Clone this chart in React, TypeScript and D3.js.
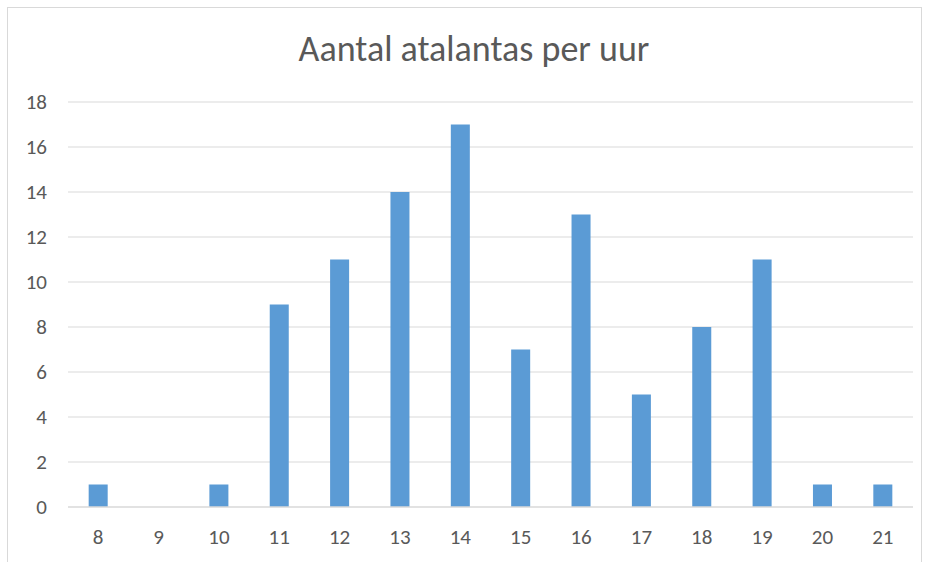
import React from 'react';
import * as d3 from 'd3';

const hours = ['8', '9', '10', '11', '12', '13', '14', '15', '16', '17', '18', '19', '20', '21'];
const counts = [1, 0, 1, 9, 11, 14, 17, 7, 13, 5, 8, 11, 1, 1];
const yTicks = [0, 2, 4, 6, 8, 10, 12, 14, 16, 18];

const W = 930;
const H = 562;
const font = "Carlito, Calibri, Lato, sans-serif";

export default function App() {
    const margin = { top: 102, right: 17, bottom: 55, left: 68 };

    const x = d3.scaleBand<string>()
        .domain(hours)
        .range([margin.left, W - margin.right])
        .paddingInner(0.685)
        .paddingOuter(0.3425);

    const y = d3.scaleLinear()
        .domain([0, 18])
        .range([H - margin.bottom, margin.top]);

    return (
        <svg width={W} height={H} style={{ position: 'absolute', left: 0, top: 0, fontFamily: font }}>
            <rect x={7.5} y={7.5} width={914} height={H} fill="#fff" stroke="#d9d9d9" strokeWidth={1} />
            <text x={474} y={61} textAnchor="middle" fontSize={36} fill="#595959">
                Aantal atalantas per uur
            </text>
            {/* gridlines + y labels */}
            {yTicks.map(t => (
                <g key={t}>
                    {t > 0 && (
                        <line x1={margin.left} x2={W - margin.right} y1={y(t)} y2={y(t)} stroke="#d9d9d9" strokeWidth={1} />
                    )}
                    <text x={47} y={y(t)} dy="0.35em" textAnchor="end" fontSize={21} fill="#595959">{t}</text>
                </g>
            ))}
            {/* bars */}
            {counts.map((c, i) => (
                <rect key={hours[i]}
                    x={x(hours[i])}
                    y={y(c)}
                    width={x.bandwidth()}
                    height={y(0) - y(c)}
                    fill="#5b9bd5" />
            ))}
            {/* x axis line */}
            <line x1={margin.left} x2={W - margin.right} y1={y(0)} y2={y(0)} stroke="#d9d9d9" strokeWidth={1.5} />
            {hours.map(h => (
                <text key={h} x={(x(h) ?? 0) + x.bandwidth() / 2} y={544} textAnchor="middle" fontSize={21} fill="#595959">{h}</text>
            ))}
        </svg>
    );
}
